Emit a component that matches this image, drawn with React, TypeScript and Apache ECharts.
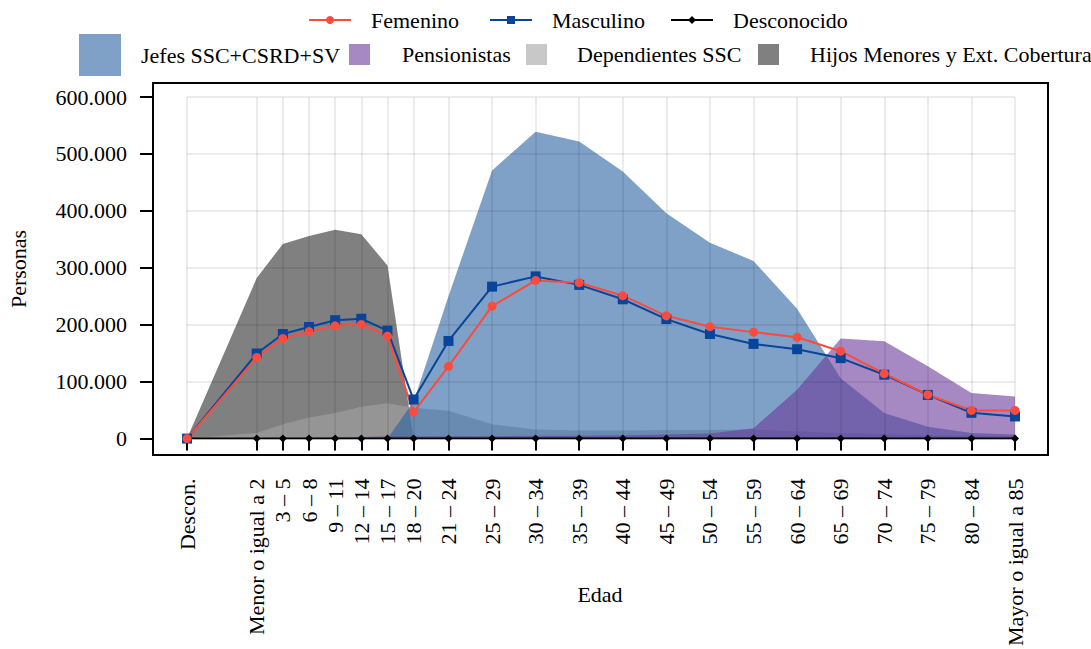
import { useEffect, useRef } from "react";
import * as echarts from "echarts";

const ageGroups = [
  "Descon.", "Menor o igual a 2", "3 – 5", "6 – 8", "9 – 11", "12 – 14", "15 – 17",
  "18 – 20", "21 – 24", "25 – 29", "30 – 34", "35 – 39", "40 – 44", "45 – 49",
  "50 – 54", "55 – 59", "60 – 64", "65 – 69", "70 – 74", "75 – 79", "80 – 84",
  "Mayor o igual a 85",
];
// position of each age group on the age scale (years)
const agePositions = [-7, 1, 4, 7, 10, 13, 16, 19, 23, 28, 33, 38, 43, 48, 53, 58, 63, 68, 73, 78, 83, 88];
const axisMinYear = -7;
const axisMaxYear = 88;

const jefes = [0, 0, 0, 0, 0, 0, 0, 65000, 250000, 471000, 539000, 522000, 469000, 396000, 344000, 312000, 228000, 106000, 45000, 21000, 10000, 7000];
const pensionistas = [0, 0, 0, 1000, 2000, 3000, 4000, 4000, 4000, 4000, 5000, 5000, 6000, 7000, 9000, 18000, 86000, 176000, 171000, 127000, 80000, 74000];
const dependientes = [0, 10000, 25000, 37000, 45000, 56000, 62000, 54000, 49000, 25000, 16000, 14000, 14000, 15000, 15000, 16000, 13000, 10000, 8000, 6000, 5000, 4000];
const hijos = [0, 282000, 342000, 356000, 367000, 359000, 304000, 0, 3000, 3000, 3000, 3000, 3000, 3000, 3000, 3000, 3000, 3000, 2000, 2000, 1000, 1000];

const femenino = [0, 142400, 176000, 188000, 198000, 200600, 180000, 46500, 126700, 232600, 277900, 273800, 251000, 215700, 196500, 187000, 178000, 153500, 114000, 77000, 49400, 49400];
const masculino = [0, 149500, 183700, 196000, 208000, 210500, 189600, 68600, 171500, 266900, 284900, 270000, 244700, 209900, 183700, 166300, 157000, 141300, 112200, 76700, 45300, 38900];
const desconocido = [0, 0, 0, 0, 0, 0, 0, 0, 0, 0, 0, 0, 0, 0, 0, 0, 0, 0, 0, 0, 0, 0];

const yTicks = [0, 100000, 200000, 300000, 400000, 500000, 600000];

const FONT = "'Liberation Serif', 'DejaVu Serif', serif";

export default function App() {
  const ref = useRef<HTMLDivElement>(null);

  useEffect(() => {
    if (!ref.current) return;
    const chart = echarts.init(ref.current, null, { renderer: "svg", width: 1091, height: 649 });

    const years: string[] = [];
    for (let y = axisMinYear; y <= axisMaxYear; y++) years.push(String(y));
    const labelByYear: Record<string, string> = {};
    agePositions.forEach((p, i) => (labelByYear[String(p)] = ageGroups[i]));
    const isLabeled = (idx: number) => labelByYear[years[idx]] !== undefined;

    const toSeries = (vals: number[]) => {
      const arr: (number | null)[] = years.map(() => null);
      agePositions.forEach((p, i) => {
        arr[p - axisMinYear] = vals[i];
      });
      return arr;
    };

    const fmt = (v: number) => String(v).replace(/\B(?=(\d{3})+(?!\d))/g, ".");

    const area = (name: string, vals: number[], color: string) => ({
      name,
      type: "line",
      data: toSeries(vals),
      connectNulls: true,
      symbol: "none",
      showSymbol: false,
      z: 2,
      itemStyle: { color },
      lineStyle: { width: 0, color },
      areaStyle: { color, opacity: 1 },
      silent: true,
    });

    const line = (name: string, vals: number[], color: string, symbol: string, size: number) => ({
      name,
      type: "line",
      data: toSeries(vals),
      connectNulls: true,
      symbol,
      symbolSize: size,
      showAllSymbol: true,
      z: 5,
      itemStyle: { color },
      lineStyle: { width: 2, color },
    });

    const textStyle = (pad: number) => ({
      fontFamily: FONT,
      fontSize: 22,
      color: "#000",
      lineHeight: 22,
      padding: [0, 0, 0, pad],
    });

    const legendLine = (name: string, left: number) => ({
      data: [name],
      left,
      top: 9,
      padding: 0,
      itemWidth: 42,
      itemHeight: 10,
      textStyle: textStyle(15),
      selectedMode: false,
    });
    const legendBox = (name: string, left: number, size: number, top: number, pad: number) => ({
      data: [{ name, icon: "rect" }],
      left,
      top,
      padding: 0,
      itemWidth: size,
      itemHeight: size,
      textStyle: textStyle(pad),
      selectedMode: false,
    });

    chart.setOption({
      animation: false,
      backgroundColor: "#fff",
      grid: { left: 187, width: 828, top: 97, height: 344, containLabel: false },
      legend: [
        legendLine("Femenino", 308),
        legendLine("Masculino", 489),
        legendLine("Desconocido", 670),
        legendBox("Jefes SSC+CSRD+SV", 79, 42, 34, 15),
        legendBox("Pensionistas", 349, 21, 43.5, 27),
        legendBox("Dependientes SSC", 526, 21, 43.5, 25),
        legendBox("Hijos Menores y Ext. Cobertura", 758, 21, 43.5, 26),
      ],
      xAxis: {
        type: "category",
        data: years,
        boundaryGap: false,
        offset: 16,
        z: 3,
        axisLine: { show: false },
        axisTick: {
          show: true,
          interval: (i: number) => isLabeled(i),
          length: 12,
          lineStyle: { color: "#000", width: 2 },
        },
        axisLabel: {
          interval: (i: number) => isLabeled(i),
          rotate: 90,
          margin: 24,
          formatter: (v: string) => labelByYear[v] || "",
          fontFamily: FONT,
          fontSize: 22,
          color: "#000",
        },
        splitLine: {
          show: true,
          interval: (i: number) => isLabeled(i),
          lineStyle: { color: "rgba(0,0,0,0.1)", width: 1.5 },
        },
      },
      yAxis: {
        type: "value",
        min: yTicks[0],
        max: yTicks[yTicks.length - 1],
        interval: yTicks[1] - yTicks[0],
        offset: 34,
        z: 3,
        axisLine: { show: false },
        axisTick: { show: true, length: 13, lineStyle: { color: "#000", width: 2 } },
        axisLabel: {
          margin: 26,
          formatter: (v: number) => fmt(v),
          fontFamily: FONT,
          fontSize: 22,
          color: "#000",
        },
        splitLine: { show: true, lineStyle: { color: "rgba(0,0,0,0.1)", width: 1.5 } },
      },
      series: [
        area("Hijos Menores y Ext. Cobertura", hijos, "rgba(43,43,43,0.6)"),
        area("Dependientes SSC", dependientes, "rgba(163,163,163,0.6)"),
        area("Jefes SSC+CSRD+SV", jefes, "rgba(42,98,162,0.6)"),
        area("Pensionistas", pensionistas, "rgba(107,58,153,0.6)"),
        line("Desconocido", desconocido, "#000000", "diamond", 8),
        line("Masculino", masculino, "#08459a", "rect", 10),
        line("Femenino", femenino, "#fb4b3e", "circle", 9),
      ],
      graphic: [
        {
          type: "rect",
          z: 10,
          silent: true,
          shape: { x: 153, y: 83, width: 895, height: 372 },
          style: { fill: "none", stroke: "#000", lineWidth: 2 },
        },
        {
          type: "text",
          x: 600,
          y: 594,
          style: {
            text: "Edad",
            fontFamily: FONT,
            fontSize: 22,
            fill: "#000",
            align: "center",
            verticalAlign: "middle",
          },
        },
        {
          type: "text",
          x: 18,
          y: 269,
          rotation: Math.PI / 2,
          style: {
            text: "Personas",
            fontFamily: FONT,
            fontSize: 22,
            fill: "#000",
            align: "center",
            verticalAlign: "middle",
          },
        },
      ],
    });

    return () => chart.dispose();
  }, []);

  return (
    <div
      ref={ref}
      style={{ position: "absolute", left: 0, top: 0, width: 1091, height: 649 }}
    />
  );
}
